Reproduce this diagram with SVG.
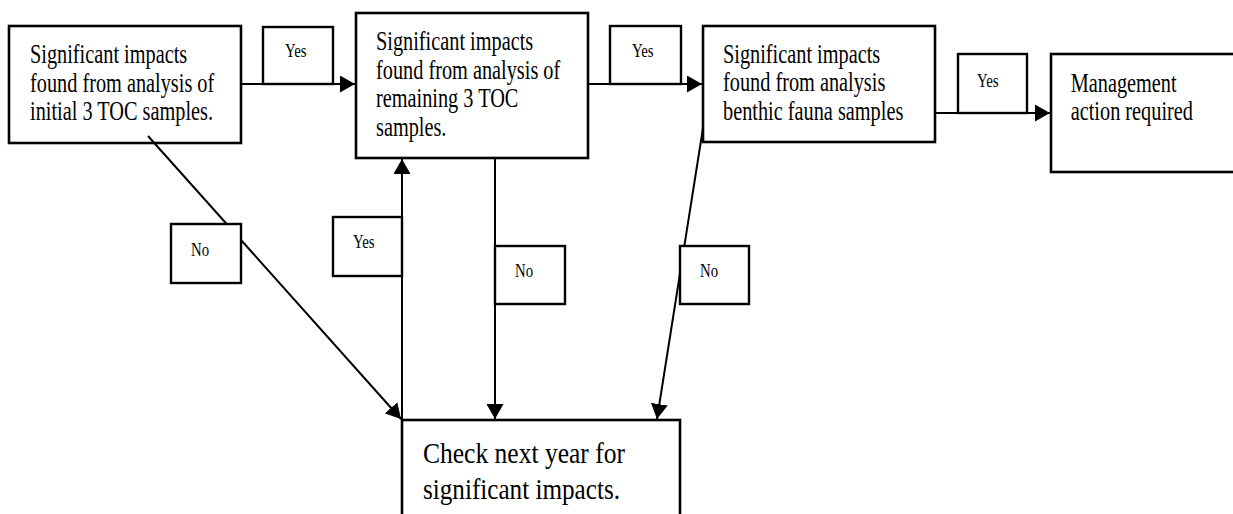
<svg xmlns="http://www.w3.org/2000/svg" width="1233" height="514" viewBox="0 0 1233 514">
<style>
.box{fill:#fff;stroke:#000;stroke-width:2.6}
.lab{fill:#fff;stroke:#000;stroke-width:2.4}
.ln{fill:none;stroke:#000;stroke-width:2}
.t{font-family:"Liberation Serif","Times New Roman",serif;font-size:20.3px;fill:#000}
.s{font-family:"Liberation Serif","Times New Roman",serif;font-size:14.8px;fill:#000}
.b{font-family:"Liberation Serif","Times New Roman",serif;font-size:25.5px;fill:#000}
</style>
<defs>
<marker id="ah" markerUnits="userSpaceOnUse" markerWidth="16" markerHeight="17" refX="15" refY="8.5" orient="auto">
<path d="M0,0 L15,8.5 L0,17 z" fill="#000"/>
</marker>
</defs>
<rect width="1233" height="514" fill="#fff"/>
<g id="node-initial">
<rect class="box" x="9" y="26" width="232" height="117"/>
<text class="t" transform="translate(30,63.3) scale(1,1.3)"><tspan x="0" y="0">Significant impacts</tspan><tspan x="0" y="22">found from analysis of</tspan><tspan x="0" y="44">initial 3 TOC samples.</tspan></text>
</g>
<g id="node-remaining">
<rect class="box" x="356" y="13" width="232" height="145"/>
<text class="t" transform="translate(376,50) scale(1,1.3)"><tspan x="0" y="0">Significant impacts</tspan><tspan x="0" y="22">found from analysis of</tspan><tspan x="0" y="44">remaining 3 TOC</tspan><tspan x="0" y="66">samples.</tspan></text>
</g>
<g id="node-benthic">
<rect class="box" x="703" y="26" width="232" height="116"/>
<text class="t" transform="translate(723,62.5) scale(1,1.3)"><tspan x="0" y="0">Significant impacts</tspan><tspan x="0" y="22">found from analysis</tspan><tspan x="0" y="44">benthic fauna samples</tspan></text>
</g>
<g id="node-management">
<rect class="box" x="1051" y="54" width="195" height="118"/>
<text class="t" transform="translate(1070.7,91.7) scale(1,1.3)"><tspan x="0" y="0">Management</tspan><tspan x="0" y="22">action required</tspan></text>
</g>
<g id="node-check">
<rect class="box" x="402" y="420" width="278" height="110"/>
<text class="b" transform="translate(423,463.3) scale(1,1.16)"><tspan x="0" y="0" textLength="202" lengthAdjust="spacingAndGlyphs">Check next year for</tspan><tspan x="0" y="31" textLength="197" lengthAdjust="spacingAndGlyphs">significant impacts.</tspan></text>
</g>
<g id="connectors">
<line class="ln" x1="241" y1="84" x2="355" y2="84" marker-end="url(#ah)"/>
<line class="ln" x1="588" y1="84" x2="702" y2="84" marker-end="url(#ah)"/>
<line class="ln" x1="935" y1="113" x2="1050" y2="113" marker-end="url(#ah)"/>
<line class="ln" x1="148" y1="136" x2="401" y2="419" marker-end="url(#ah)"/>
<line class="ln" x1="402" y1="420" x2="402" y2="159" marker-end="url(#ah)"/>
<line class="ln" x1="495" y1="158" x2="495" y2="419" marker-end="url(#ah)"/>
<line class="ln" x1="703" y1="128" x2="657" y2="419" marker-end="url(#ah)"/>
</g>
<g id="labels">
<g id="label-yes1"><rect class="lab" x="263" y="27" width="70" height="57"/><text class="s" transform="translate(285,57.3) scale(1,1.3)">Yes</text></g>
<g id="label-yes2"><rect class="lab" x="610" y="26" width="71" height="58"/><text class="s" transform="translate(632,57.3) scale(1,1.3)">Yes</text></g>
<g id="label-yes3"><rect class="lab" x="958" y="54" width="69" height="59"/><text class="s" transform="translate(977,86.7) scale(1,1.3)">Yes</text></g>
<g id="label-yes4"><rect class="lab" x="333" y="217" width="69" height="59"/><text class="s" transform="translate(353,248.3) scale(1,1.3)">Yes</text></g>
<g id="label-no1"><rect class="lab" x="171" y="224" width="70" height="59"/><text class="s" transform="translate(191,256) scale(1,1.3)">No</text></g>
<g id="label-no2"><rect class="lab" x="495" y="246" width="70" height="58"/><text class="s" transform="translate(515,277) scale(1,1.3)">No</text></g>
<g id="label-no3"><rect class="lab" x="680" y="246" width="69" height="58"/><text class="s" transform="translate(700,277) scale(1,1.3)">No</text></g>
</g>
</svg>
